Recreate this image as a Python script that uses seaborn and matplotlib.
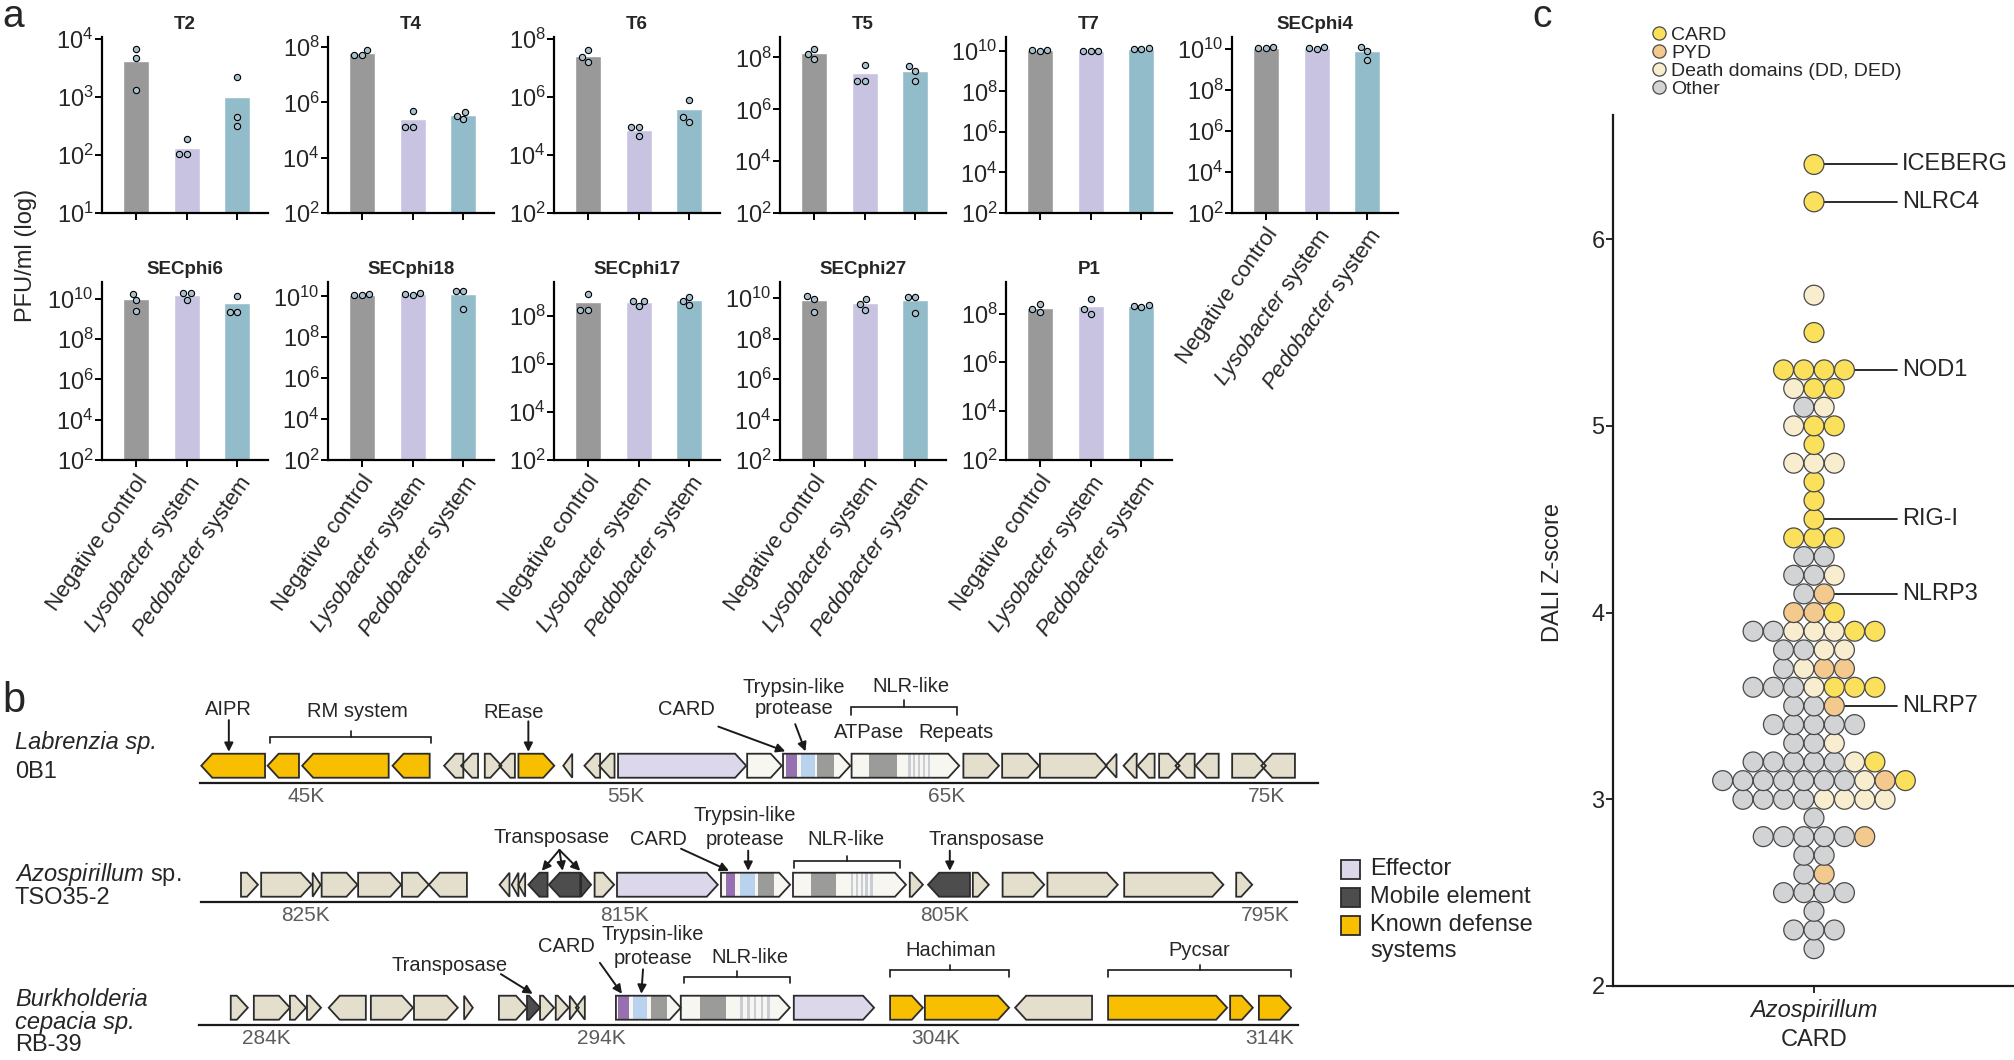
import numpy as np
import pandas as pd
import matplotlib
matplotlib.use("Agg")
import matplotlib.pyplot as plt
import seaborn as sns
from matplotlib.patches import Polygon, Rectangle
from matplotlib.lines import Line2D
from matplotlib.ticker import NullLocator

# ======================= DATA =======================
# ---- panel a : phage titres (PFU/ml), three replicates per condition ----
conditions = ["Negative control", "Lysobacter system", "Pedobacter system"]
condition_labels = ["Negative control", r"$\it{Lysobacter}$ system", r"$\it{Pedobacter}$ system"]
phage_names = ["T2", "T4", "T6", "T5", "T7", "SECphi4",
               "SECphi6", "SECphi18", "SECphi17", "SECphi27", "P1"]

pfu_T2 = [[6.6e3, 4.6e3, 1.3e3], [190, 105, 105], [2.2e3, 450, 320]]
pfu_T4 = [[8.0e7, 5.0e7, 5.0e7], [5.0e5, 1.25e5, 1.25e5], [4.4e5, 3.3e5, 2.4e5]]
pfu_T6 = [[4.0e7, 2.3e7, 1.6e7], [9.0e4, 9.0e4, 4.4e4], [8.0e5, 2.0e5, 1.4e5]]
pfu_T5 = [[2.2e8, 1.4e8, 9.0e7], [5.0e7, 1.2e7, 1.2e7], [4.5e7, 3.0e7, 1.2e7]]
pfu_T7 = [[1.1e10, 1.0e10, 1.05e10], [1.0e10, 1.0e10, 0.95e10], [1.4e10, 1.25e10, 1.2e10]]
pfu_SECphi4 = [[1.3e10, 1.15e10, 1.1e10], [1.25e10, 1.1e10, 1.05e10], [1.3e10, 8.3e9, 2.9e9]]
pfu_SECphi6 = [[1.8e10, 8.3e9, 2.6e9], [1.9e10, 1.9e10, 9.0e9], [1.35e10, 2.3e9, 2.3e9]]
pfu_SECphi18 = [[1.25e10, 1.2e10, 1.15e10], [1.4e10, 1.25e10, 1.2e10], [1.8e10, 1.8e10, 2.5e9]]
pfu_SECphi17 = [[8.7e8, 1.8e8, 1.8e8], [4.4e8, 4.4e8, 2.6e8], [6.5e8, 4.5e8, 3.0e8]]
pfu_SECphi27 = [[1.3e10, 9.0e9, 2.0e9], [9.0e9, 5.0e9, 2.5e9], [1.1e10, 1.1e10, 1.8e9]]
pfu_P1 = [[2.5e8, 1.5e8, 1.2e8], [4.0e8, 1.5e8, 1.0e8], [2.2e8, 2.0e8, 1.8e8]]

# ---- panel b : gene neighbourhoods (tail kb, tip kb, gene class) ----
labrenzia_genes = [
    (43.73, 41.74, "def"), (44.79, 43.81, "def"), (47.59, 44.89, "def"), (48.87, 47.71, "def"),
    (49.92, 49.32, "other"), (50.38, 49.85, "other"), (50.59, 51.11, "other"), (51.53, 51.04, "other"),
    (51.64, 52.76, "def"), (53.32, 53.04, "other"), (54.19, 53.70, "other"), (54.64, 54.16, "other"),
    (54.75, 58.75, "eff"), (58.78, 59.86, "white"), (59.90, 62.00, "white"), (62.04, 65.40, "white"),
    (65.53, 66.64, "other"), (66.74, 67.89, "other"), (67.92, 70.00, "other"), (70.31, 69.97, "other"),
    (70.94, 70.53, "other"), (71.50, 70.97, "other"), (71.64, 72.28, "other"), (72.75, 72.15, "other"),
    (73.50, 72.78, "other"), (73.92, 74.97, "other"), (75.88, 74.83, "other"),
]
labrenzia_domains = [(60.00, 60.33, "card"), (60.46, 60.90, "tryp"), (60.97, 61.50, "gray"),
                     (62.57, 63.45, "gray")]
labrenzia_repeats = [63.85, 64.00, 64.15, 64.30, 64.45]

azospirillum_genes = [
    (827.00, 826.47, "other"), (826.37, 824.79, "other"), (824.76, 824.51, "other"),
    (824.48, 823.36, "other"), (823.34, 821.99, "other"), (821.97, 821.13, "other"),
    (819.94, 821.13, "other"), (818.61, 818.92, "other"), (818.33, 818.54, "other"),
    (818.12, 818.33, "other"), (817.42, 818.02, "mob"), (816.40, 817.38, "mob"),
    (816.37, 816.06, "mob"), (815.95, 815.34, "other"), (815.25, 812.10, "eff"),
    (812.00, 809.84, "white"), (809.75, 806.22, "white"), (806.10, 805.69, "other"),
    (804.22, 805.53, "mob"), (804.13, 803.63, "other"), (803.20, 801.90, "other"),
    (801.80, 799.60, "other"), (799.40, 796.30, "other"), (795.90, 795.40, "other"),
]
azospirillum_domains = [(811.85, 811.55, "card"), (811.42, 810.95, "tryp"), (810.85, 810.35, "gray"),
                        (809.20, 808.40, "gray")]
azospirillum_repeats = [807.90, 807.75, 807.60, 807.45, 807.30]

burkholderia_genes = [
    (282.92, 283.43, "other"), (283.61, 284.69, "other"), (284.69, 285.17, "other"),
    (285.20, 285.62, "other"), (286.96, 285.85, "other"), (287.11, 288.37, "other"),
    (288.40, 289.71, "other"), (289.90, 290.16, "other"), (290.94, 291.78, "other"),
    (291.78, 292.17, "mob"), (292.17, 292.59, "other"), (292.64, 293.03, "other"),
    (293.06, 293.33, "other"), (293.51, 293.24, "other"),
    (294.44, 296.38, "white"), (296.38, 299.64, "white"), (299.76, 302.16, "eff"),
    (302.64, 303.62, "def"), (303.68, 306.20, "def"), (308.68, 306.38, "other"),
    (309.16, 312.72, "def"), (312.81, 313.49, "def"), (313.67, 314.63, "def"),
]
burkholderia_domains = [(294.50, 294.83, "card"), (294.95, 295.37, "tryp"), (295.49, 295.97, "gray"),
                        (296.95, 297.73, "gray")]
burkholderia_repeats = [298.20, 298.40, 298.60, 298.80, 299.00]

locus_ticks_labrenzia = [45, 55, 65, 75]
locus_ticks_azospirillum = [825, 815, 805, 795]
locus_ticks_burkholderia = [284, 294, 304, 314]

# ---- panel c : DALI Z-scores by domain class ----
card_z = [6.4, 6.2, 5.5, 5.3, 5.3, 5.3, 5.3, 5.2, 5.2, 5.0, 5.0, 4.9, 4.7, 4.6, 4.5,
          4.4, 4.4, 4.4, 4.0, 3.9, 3.9, 3.6, 3.6, 3.6, 3.2, 3.1]
pyd_z = [4.1, 4.0, 4.0, 3.7, 3.7, 3.5, 3.1, 2.8, 2.6]
dd_z = [5.7, 5.2, 5.1, 5.0, 4.8, 4.8, 4.8, 4.2, 3.9, 3.9, 3.9, 3.8, 3.8, 3.7, 3.6,
        3.3, 3.2, 3.1, 3.0, 3.0, 3.0, 3.0]
other_z = [5.1, 4.3, 4.3, 4.2, 4.2, 4.1, 3.9, 3.9, 3.8, 3.8, 3.7, 3.6, 3.6, 3.6, 3.5, 3.5,
           3.4, 3.4, 3.4, 3.4, 3.4, 3.3, 3.3, 3.2, 3.2, 3.2, 3.2, 3.2,
           3.1, 3.1, 3.1, 3.1, 3.1, 3.1, 3.1, 3.0, 3.0, 3.0, 3.0, 2.9,
           2.8, 2.8, 2.8, 2.8, 2.8, 2.7, 2.7, 2.6, 2.5, 2.5, 2.5, 2.5, 2.4,
           2.3, 2.3, 2.3, 2.2]
domain_names = ["CARD", "PYD", "Death domains (DD, DED)", "Other"]
highlight_names = ["ICEBERG", "NLRC4", "NOD1", "RIG-I", "NLRP3", "NLRP7"]
highlight_z = [6.4, 6.2, 5.3, 4.5, 4.1, 3.5]

# ======================= STYLE =======================
sns.set_style("ticks")
plt.rcParams["font.family"] = ["Liberation Sans", "DejaVu Sans"]
plt.rcParams["mathtext.fontset"] = "custom"
plt.rcParams["mathtext.rm"] = "Liberation Sans"
plt.rcParams["mathtext.it"] = "Liberation Sans:italic"
plt.rcParams["mathtext.bf"] = "Liberation Sans:bold"
plt.rcParams["axes.linewidth"] = 1.5

W, H = 2015, 1060
fig = plt.figure(figsize=(W / 100, H / 100), dpi=100)


def px_axes(left, top, right, bottom):
    return fig.add_axes([left / W, 1 - bottom / H, (right - left) / W, (bottom - top) / H])


def fig_xy(x, y):
    return x / W, 1 - y / H


INK = "#1a1a1a"

# ======================= PANEL A =======================
bar_palette = dict(zip(conditions, ["#999999", "#c9c3e2", "#93bccb"]))
dot_color = "#a9c1cf"
pfu_data = dict(zip(phage_names, [pfu_T2, pfu_T4, pfu_T6, pfu_T5, pfu_T7, pfu_SECphi4,
                                  pfu_SECphi6, pfu_SECphi18, pfu_SECphi17, pfu_SECphi27, pfu_P1]))
ylims = {"T2": (1, 4.03), "T4": (2, 8.36), "T6": (2, 8.06), "T5": (2, 8.79), "T7": (2, 10.68),
         "SECphi4": (2, 10.6), "SECphi6": (2, 10.83), "SECphi18": (2, 10.7), "SECphi17": (2, 9.43),
         "SECphi27": (2, 10.8), "P1": (2, 9.3)}
a_lefts = [102 + 226 * i for i in range(6)]
a_width = 166
a_rows = [(37, 213), (282, 460)]

for i, name in enumerate(phage_names):
    row, col = divmod(i, 6)
    top, bottom = a_rows[row]
    ax = px_axes(a_lefts[col], top, a_lefts[col] + a_width, bottom)
    vals = pfu_data[name]
    df = pd.DataFrame({"condition": np.repeat(conditions, 3),
                       "pfu": np.concatenate([np.asarray(v, float) for v in vals])})
    sns.barplot(data=df, x="condition", y="pfu", hue="condition", order=conditions,
                hue_order=conditions, palette=bar_palette, errorbar=None, width=0.51,
                saturation=1, legend=False, ax=ax)
    sns.swarmplot(data=df, x="condition", y="pfu", order=conditions, color=dot_color,
                  edgecolor="black", linewidth=0.8, size=4.5, ax=ax, zorder=4)
    ax.set_yscale("log")
    lo, hi = ylims[name]
    ax.set_ylim(10 ** lo, 10 ** hi)
    if name == "T2":
        yt = [1, 2, 3, 4]
    else:
        yt = [k for k in range(2, 11, 2) if k <= hi + 0.05]
    ax.set_yticks([10.0 ** k for k in yt])
    ax.set_yticklabels([f"$10^{{{k}}}$" for k in yt])
    ax.yaxis.set_minor_locator(NullLocator())
    ax.set_xlim(-0.66, 2.6)
    ax.set_xticks([0, 1, 2])
    if row == 1 or name == "SECphi4":
        ax.set_xticklabels(condition_labels, rotation=55, ha="right",
                           rotation_mode="anchor", fontsize=16)
    else:
        ax.set_xticklabels(["", "", ""])
    ax.set_xlabel("")
    ax.set_ylabel("")
    ax.set_title(name, fontsize=13.5, fontweight="bold", pad=6)
    sns.despine(ax=ax)
    for s in ("left", "bottom"):
        ax.spines[s].set_linewidth(1.6)
        ax.spines[s].set_color("black")
    ax.tick_params(axis="both", direction="out", length=5, width=1.4, color="black")
    ax.tick_params(axis="y", labelsize=17, pad=1)
    ax.tick_params(axis="x", pad=3)
    ax.patch.set_alpha(0)

fig.text(*fig_xy(26, 255), "PFU/ml (log)", rotation=90, ha="center", va="center", fontsize=17)
fig.text(*fig_xy(2, 27), "a", fontsize=28, va="baseline", ha="left")

# ======================= PANEL B =======================
gene_colors = {"def": "#f8bf00", "other": "#e4dfcc", "eff": "#ddd7ec",
               "mob": "#4d4d4d", "white": "#f8f6f0"}
domain_colors = {"card": "#9670b0", "tryp": "#b9d3ef", "gray": "#9b9b99"}
repeat_color = "#c9cdd6"
edge_col = "#2b2b2b"

locus_rows = [
    dict(genes=labrenzia_genes, domains=labrenzia_domains, repeats=labrenzia_repeats,
         ticks=locus_ticks_labrenzia, xlim=(41.70, 76.60), px=(200, 1318), bottom=783),
    dict(genes=azospirillum_genes, domains=azospirillum_domains, repeats=azospirillum_repeats,
         ticks=locus_ticks_azospirillum, xlim=(828.25, 794.00), px=(201, 1297), bottom=902),
    dict(genes=burkholderia_genes, domains=burkholderia_domains, repeats=burkholderia_repeats,
         ticks=locus_ticks_burkholderia, xlim=(281.97, 314.84), px=(199, 1298), bottom=1025),
]
UNIT = 24.0           # px per y data unit
Y0, Y1 = -0.72, 3.6
HEAD_PX = 11.0

gene_axes = []
for r in locus_rows:
    b = r["bottom"]
    ax = px_axes(r["px"][0], b - (Y1 - Y0) * UNIT, r["px"][1], b)
    ax.set_xlim(*r["xlim"])
    ax.set_ylim(Y0, Y1)
    ax.patch.set_alpha(0)
    for s in ("left", "right", "top"):
        ax.spines[s].set_visible(False)
    ax.spines["bottom"].set_linewidth(1.6)
    ax.spines["bottom"].set_color(INK)
    ax.set_yticks([])
    ax.set_xticks(r["ticks"])
    ax.set_xticklabels([f"{t}K" for t in r["ticks"]])
    ax.tick_params(axis="x", length=0, pad=3, labelsize=15, labelcolor="#5c5c5c")
    kb_per_px = abs(r["xlim"][1] - r["xlim"][0]) / (r["px"][1] - r["px"][0])
    head = HEAD_PX * kb_per_px
    polys = []
    for tail, tip, kind in r["genes"]:
        d = 1 if tip > tail else -1
        L = abs(tip - tail)
        h = min(head, L)
        if h >= L * 0.999:
            pts = [(tail, -0.5), (tip, 0), (tail, 0.5)]
        else:
            pts = [(tail, -0.5), (tip - d * h, -0.5), (tip, 0), (tip - d * h, 0.5), (tail, 0.5)]
        poly = Polygon(pts, closed=True, facecolor=gene_colors[kind], edgecolor="none", zorder=2)
        ax.add_patch(poly)
        outline = Polygon(pts, closed=True, facecolor="none", edgecolor=edge_col,
                          linewidth=1.3, zorder=5, joinstyle="miter")
        ax.add_patch(outline)
        polys.append((min(tail, tip), max(tail, tip), poly))
    for a0, a1, kind in r["domains"]:
        lo_, hi_ = min(a0, a1), max(a0, a1)
        for g0, g1, poly in polys:
            if g0 <= lo_ and hi_ <= g1 + 1e-9:
                rect = Rectangle((lo_, -0.5), hi_ - lo_, 1.0, facecolor=domain_colors[kind],
                                 edgecolor="none", zorder=3)
                ax.add_patch(rect)
                rect.set_clip_path(poly)
    for xr in r["repeats"]:
        for g0, g1, poly in polys:
            if g0 <= xr <= g1:
                rect = Rectangle((xr - 0.035, -0.5), 0.07, 1.0, facecolor=repeat_color,
                                 edgecolor="none", zorder=3)
                ax.add_patch(rect)
                rect.set_clip_path(poly)
    gene_axes.append(ax)

ANN = 14.5


def arrow(ax, x0, y0, x1, y1):
    ax.annotate("", xy=(x1, y1), xytext=(x0, y0), annotation_clip=False,
                arrowprops=dict(arrowstyle="-|>", color=INK, lw=1.4, mutation_scale=13,
                                shrinkA=0, shrinkB=0))


def bracket(ax, x0, x1, y, drop=0.28, notch=0.28):
    xm = (x0 + x1) / 2
    ax.plot([x0, x0, x1, x1], [y - drop, y, y, y - drop], color=INK, lw=1.2, clip_on=False,
            solid_joinstyle="miter")
    ax.plot([xm, xm], [y, y + notch], color=INK, lw=1.2, clip_on=False)


def label(ax, x, y, s):
    ax.text(x, y, s, ha="center", va="center", fontsize=ANN, clip_on=False)


# Row 1 annotations
ax1 = gene_axes[0]
label(ax1, 42.6, 2.33, "AIPR")
arrow(ax1, 42.6, 1.9, 42.6, 0.58)
label(ax1, 46.6, 2.25, "RM system")
bracket(ax1, 43.9, 48.9, 1.2, drop=0.26, notch=0.26)
label(ax1, 51.5, 2.2, "REase")
arrow(ax1, 51.95, 1.85, 51.95, 0.58)
label(ax1, 56.9, 2.33, "CARD")
arrow(ax1, 57.88, 1.63, 59.97, 0.6)
label(ax1, 60.25, 3.25, "Trypsin-like")
label(ax1, 60.25, 2.37, "protease")
arrow(ax1, 60.28, 1.73, 60.6, 0.6)
label(ax1, 63.9, 3.3, "NLR-like")
bracket(ax1, 62.03, 65.34, 2.46, drop=0.34, notch=0.29)
label(ax1, 62.6, 1.37, "ATPase")
label(ax1, 65.3, 1.37, "Repeats")

# Row 2 annotations
ax2 = gene_axes[1]
label(ax2, 817.3, 1.95, "Transposase")
for xt in (817.60, 816.95, 816.40):
    arrow(ax2, 817.05, 1.45, xt, 0.58)
label(ax2, 813.97, 1.9, "CARD")
arrow(ax2, 813.25, 1.5, 811.75, 0.58)
label(ax2, 811.25, 2.88, "Trypsin-like")
label(ax2, 811.25, 1.9, "protease")
arrow(ax2, 811.15, 1.42, 811.15, 0.58)
label(ax2, 808.1, 1.9, "NLR-like")
bracket(ax2, 809.72, 806.4, 0.98, drop=0.28, notch=0.22)
label(ax2, 803.7, 1.9, "Transposase")
arrow(ax2, 804.85, 1.42, 804.85, 0.58)

# Row 3 annotations
ax3 = gene_axes[2]
label(ax3, 289.47, 1.75, "Transposase")
arrow(ax3, 291.0, 1.4, 291.95, 0.58)
label(ax3, 292.97, 2.54, "CARD")
arrow(ax3, 293.96, 1.87, 294.62, 0.58)
label(ax3, 295.55, 3.04, "Trypsin-like")
label(ax3, 295.55, 2.04, "protease")
arrow(ax3, 295.25, 1.6, 295.2, 0.58)
label(ax3, 298.45, 2.1, "NLR-like")
bracket(ax3, 296.47, 299.64, 1.3, drop=0.26, notch=0.22)
label(ax3, 304.46, 2.38, "Hachiman")
bracket(ax3, 302.64, 306.2, 1.58, drop=0.28, notch=0.22)
label(ax3, 311.88, 2.38, "Pycsar")
bracket(ax3, 309.16, 314.63, 1.58, drop=0.28, notch=0.22)

# Species labels
SP = 17
fig.text(*fig_xy(15, 743), "Labrenzia sp.", fontsize=SP, style="italic", va="center")
fig.text(*fig_xy(15, 772), "0B1", fontsize=SP, va="center")
fig.text(*fig_xy(15, 874), r"$\it{Azospirillum}$ sp.", fontsize=SP, va="center")
fig.text(*fig_xy(15, 898), "TSO35-2", fontsize=SP, va="center")
fig.text(*fig_xy(15, 1000), "Burkholderia", fontsize=SP, style="italic", va="center")
fig.text(*fig_xy(15, 1023), "cepacia sp.", fontsize=SP, style="italic", va="center")
fig.text(*fig_xy(15, 1045), "RB-39", fontsize=SP, va="center")
fig.text(*fig_xy(2, 712), "b", fontsize=30, va="baseline", ha="left")

# Panel b legend
leg_items = [("Effector", gene_colors["eff"], 869), ("Mobile element", gene_colors["mob"], 897),
             ("Known defense", gene_colors["def"], 925)]
for txt, colr, yc in leg_items:
    x0, y0 = fig_xy(1341, yc + 9.5)
    fig.patches.append(Rectangle((x0, y0), 19 / W, 19 / H, transform=fig.transFigure,
                                 facecolor=colr, edgecolor=edge_col, linewidth=1.3))
    fig.text(*fig_xy(1370, yc), txt, fontsize=17, va="center", ha="left")
fig.text(*fig_xy(1370, 951), "systems", fontsize=17, va="center", ha="left")

# ======================= PANEL C =======================
domain_palette = {"CARD": "#fbe05c", "PYD": "#f3c98d",
                  "Death domains (DD, DED)": "#f9edcf", "Other": "#d2d3d5"}
stack_order = ["Other", "Death domains (DD, DED)", "PYD", "CARD"]
dfc = pd.DataFrame({
    "z": np.round(np.concatenate([card_z, pyd_z, dd_z, other_z]), 1),
    "domain": (["CARD"] * len(card_z) + ["PYD"] * len(pyd_z)
               + ["Death domains (DD, DED)"] * len(dd_z) + ["Other"] * len(other_z)),
})
dfc["order"] = dfc["domain"].map({d: i for i, d in enumerate(stack_order)})
dfc = dfc.sort_values(["z", "order"], kind="stable").reset_index(drop=True)
dfc["rank"] = dfc.groupby("z").cumcount()
dfc["n"] = dfc.groupby("z")["z"].transform("size")
dfc["xpos"] = dfc["rank"] - (dfc["n"] - 1) / 2.0

axc = px_axes(1613, 115, 2015, 986)
sns.scatterplot(data=dfc, x="xpos", y="z", hue="domain", palette=domain_palette,
                s=205, edgecolor="#4a4a4a", linewidth=0.9, legend=False, ax=axc, zorder=3)
axc.set_xlim(-9.9, 9.9)
axc.set_ylim(2, 6.665)
axc.set_yticks([2, 3, 4, 5, 6])
axc.set_xticks([0])
axc.set_xticklabels([""])
axc.set_xlabel("")
axc.set_ylabel("")
sns.despine(ax=axc)
for s in ("left", "bottom"):
    axc.spines[s].set_linewidth(1.6)
    axc.spines[s].set_color(INK)
axc.tick_params(axis="both", direction="out", length=5, width=1.3, color=INK, labelsize=17)
axc.tick_params(axis="y", pad=1)
axc.patch.set_alpha(0)

for nm, zv in zip(highlight_names, highlight_z):
    xr = dfc.loc[np.isclose(dfc["z"], zv), "xpos"].max()
    axc.plot([xr + 0.5, 4.1], [zv, zv], color=INK, lw=1.3, zorder=2)
    axc.text(4.35, zv, nm, va="center", ha="left", fontsize=17)

axc.text(0, -0.028, "Azospirillum", transform=axc.get_xaxis_transform(), ha="center",
         va="center", fontsize=17, style="italic")
axc.text(0, -0.062, "CARD", transform=axc.get_xaxis_transform(), ha="center",
         va="center", fontsize=17)
fig.text(*fig_xy(1553, 573), "DALI Z-score", rotation=90, ha="center", va="center", fontsize=17)

handles = [Line2D([0], [0], marker="o", linestyle="none", markersize=9.5,
                  markerfacecolor=domain_palette[d], markeredgecolor="#4a4a4a",
                  markeredgewidth=0.9) for d in domain_names]
axc.legend(handles, domain_names, loc="upper left", bbox_to_anchor=fig_xy(1652, 26),
           bbox_transform=fig.transFigure, frameon=False, fontsize=14, handlelength=0.7,
           handletextpad=0.3, labelspacing=0.02, borderpad=0, borderaxespad=0)
fig.text(*fig_xy(1532, 27), "c", fontsize=28, va="baseline", ha="left")

fig.savefig("out.png", dpi=100)
